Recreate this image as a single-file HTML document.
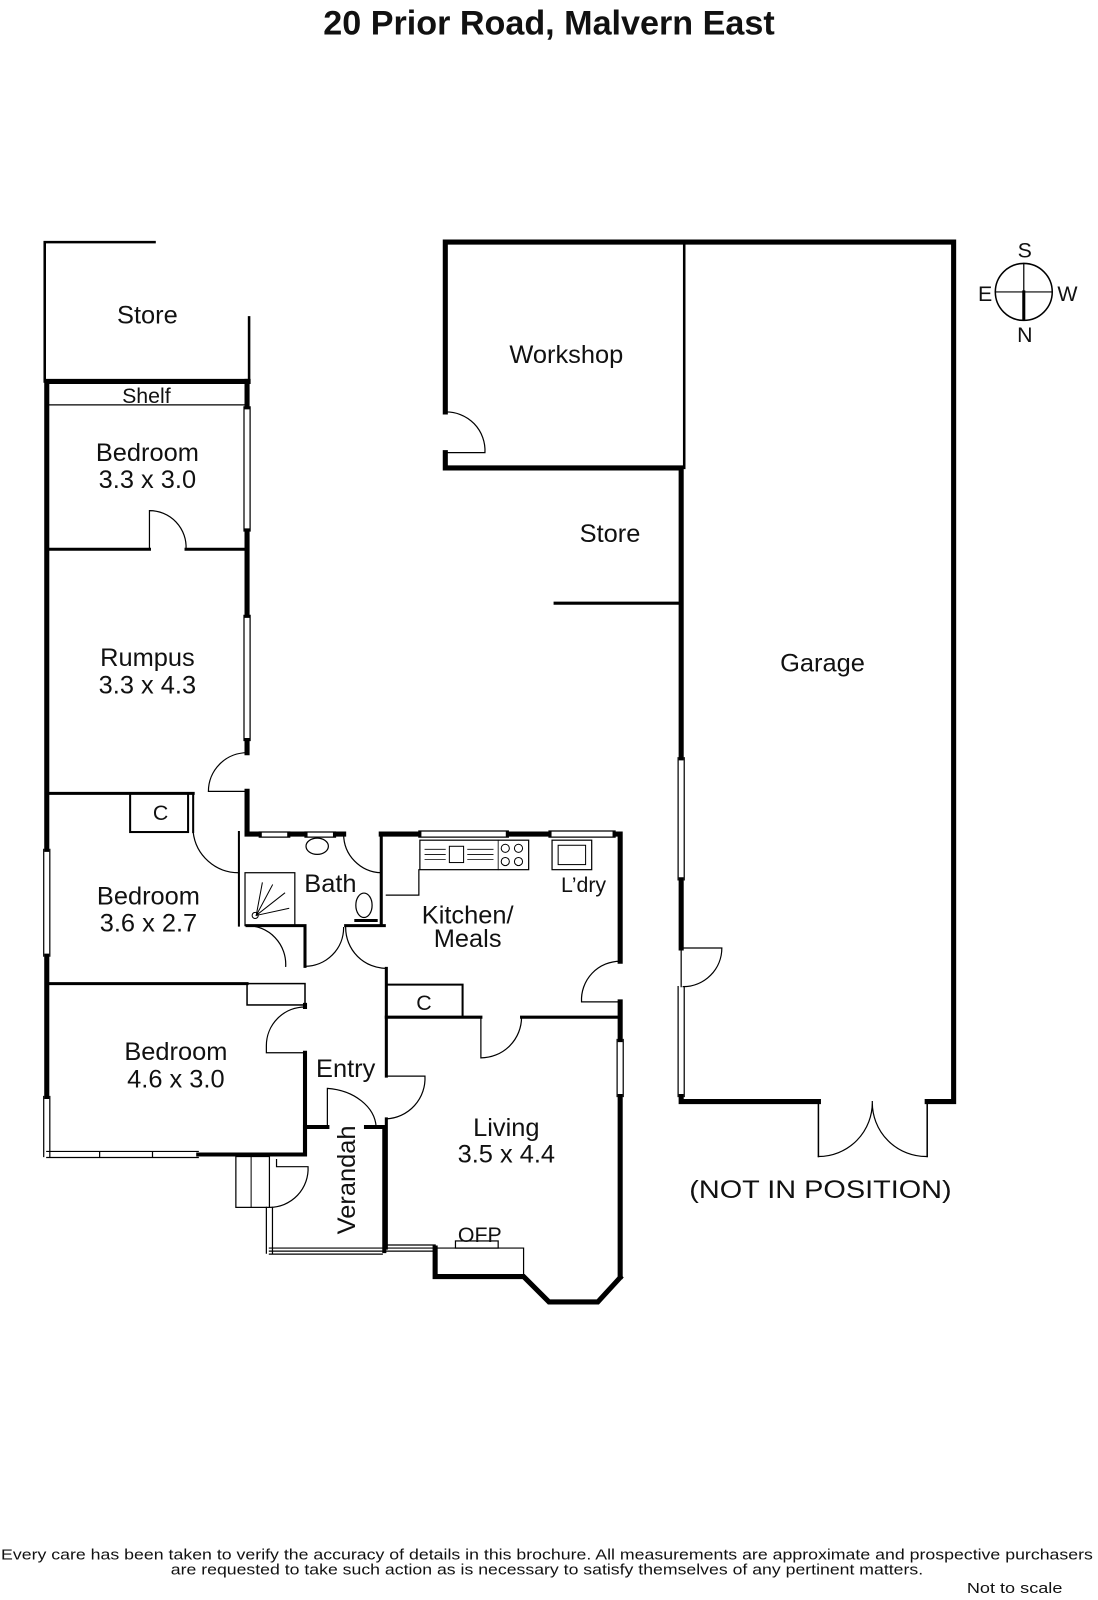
<!DOCTYPE html>
<html><head><meta charset="utf-8"><style>
html,body{margin:0;padding:0;background:#fff;}
svg{display:block;}
text{font-family:"Liberation Sans",sans-serif;fill:#111;}
</style></head><body>
<svg width="1098" height="1600" viewBox="0 0 1080 1573" preserveAspectRatio="none" xmlns="http://www.w3.org/2000/svg">
<g fill="none" stroke="#000" stroke-linecap="square">
<path d="M44 238 H152 M44 238 V375 M245 312 V375" stroke-width="2.5"/>
<path d="M46 375 H244 M46 375 V835 M46 940 V1078" stroke-width="5"/>
<path d="M46 398 H243" stroke-width="1.2"/>
<path d="M243 375 V400 M243 522 V605 M243 728 V740" stroke-width="5"/>
<path d="M240 400 V522 M246 400 V522 M240 605 V728 M246 605 V728" stroke-width="1.2"/>
<path d="M46 540 H147 M183 540 H243" stroke-width="3"/>
<path d="M147 540 V502 A36 36 0 0 1 183 540" stroke-width="1.2"/>
<path d="M243 740 A38 38 0 0 0 205 778 H243 V818" stroke-width="1.2"/>
<path d="M243 778 V818" stroke-width="5"/>
<path d="M46 780 H190" stroke-width="3"/>
<rect x="128" y="780" width="57" height="38" stroke-width="2"/>
<path d="M190 818 A45 45 0 0 0 235 858" stroke-width="1.2"/>
<path d="M190 780 V818" stroke-width="2"/>
<path d="M235 818 V910" stroke-width="2"/>
<path d="M43 835 V940 M49 835 V940" stroke-width="1.2"/>
<path d="M46 967 H243" stroke-width="3"/>
<rect x="243" y="967" width="57" height="21" stroke-width="1.5"/>
<path d="M243 820 H255 M285 820 H300 M330 820 H338" stroke-width="5"/>
<path d="M255 818 H285 M255 823 H285 M300 818 H330 M300 823 H330" stroke-width="1.2"/>
<rect x="241" y="858" width="49" height="52" stroke-width="1.2"/>
<path d="M252 900 L268 870 M252 900 L280 878 M252 900 L284 893 M252 900 L258 868" stroke-width="1"/>
<circle cx="251" cy="900" r="3" stroke-width="1"/>
<ellipse cx="312" cy="832" rx="11" ry="8" stroke-width="1.2"/>
<ellipse cx="358" cy="890" rx="8" ry="12" stroke-width="1.2"/>
<path d="M350 905 H370" stroke-width="3"/>
<path d="M338 820 A38 38 0 0 0 375 858" stroke-width="1.2"/>
<path d="M375 820 V910 M340 910 H378" stroke-width="3"/>
<path d="M243 910 H300 V950" stroke-width="3"/>
<path d="M300 950 A38 38 0 0 0 338 912" stroke-width="1.2"/>
<path d="M243 910 A38 38 0 0 1 281 950" stroke-width="1.2"/>
<path d="M375 820 H412 M500 820 H540 M605 820 H610 V945 M610 985 V1022 M610 1078 V1255" stroke-width="5"/>
<path d="M412 817 H500 M412 823 H500 M540 817 H605 M540 823 H605 M607 1022 V1078 M613 1022 V1078" stroke-width="1.2"/>
<rect x="413" y="826" width="107" height="29" stroke-width="1.2"/>
<rect x="442" y="832" width="14" height="16" stroke-width="1"/>
<circle cx="497" cy="834" r="4" stroke-width="1"/><circle cx="510" cy="834" r="4" stroke-width="1"/>
<circle cx="497" cy="847" r="4" stroke-width="1"/><circle cx="510" cy="847" r="4" stroke-width="1"/>
<path d="M418 835 H438 M418 840 H438 M418 845 H438 M460 835 H485 M460 840 H485 M460 845 H485 M490 826 V855" stroke-width="0.8"/>
<path d="M412 855 V880 H380" stroke-width="1.2"/>
<rect x="543" y="826" width="39" height="29" stroke-width="1.2"/>
<rect x="549" y="831" width="27" height="19" stroke-width="1"/>
<path d="M610 945 A38 38 0 0 0 572 985 H610" stroke-width="1.2"/>
<path d="M340 912 A40 40 0 0 0 380 952" stroke-width="1.2"/>
<path d="M380 968 H455 V1000" stroke-width="2"/>
<path d="M380 1000 H473 M513 1000 H610" stroke-width="3"/>
<path d="M473 1000 V1040 A40 40 0 0 0 513 1000" stroke-width="1.2"/>
<path d="M380 952 V1058 M380 1100 V1227" stroke-width="3"/>
<path d="M380 1058 H418 A40 40 0 0 1 380 1100" stroke-width="1.2"/>
<path d="M380 1227 H428 M380 1224 H428 M380 1230 H428" stroke-width="1.2"/>
<path d="M428 1227 V1255 H515 L540 1280 H588 L610 1256" stroke-width="5"/>
<rect x="448" y="1220" width="42" height="7" stroke-width="1.2"/>
<path d="M515 1227 V1255 M428 1227 H515" stroke-width="1.2"/>
<path d="M300 988 V990 M300 1035 V1135 H195" stroke-width="4"/>
<path d="M300 990 A38 38 0 0 0 262 1028 V1035 H300" stroke-width="1.2"/>
<path d="M46 1132 H195 M46 1138 H195 M98 1132 V1138 M150 1132 V1138" stroke-width="1.2"/>
<path d="M43 1078 V1137 M49 1078 V1137" stroke-width="1.2"/>
<path d="M300 1135 V1108 H322" stroke-width="4"/>
<path d="M322 1108 V1070 A53 40 0 0 1 370 1108" stroke-width="1.2"/>
<path d="M360 1108 H378 V1230" stroke-width="4"/>
<path d="M265 1230 H376 M265 1227 H376 M265 1233 H376" stroke-width="1.2"/>
<path d="M262 1187 V1232 M268 1187 V1232" stroke-width="1.2"/>
<rect x="232" y="1137" width="33" height="50" stroke-width="1.2"/>
<path d="M247 1137 V1187" stroke-width="1"/>
<path d="M265 1187 A38 38 0 0 0 303 1147 H272 V1140" stroke-width="1.2"/>
<path d="M438 405 V238 H938 V1083 H912 M805 1083 H670 V1078 M670 932 V865 M670 745 V460 H438 V445" stroke-width="5"/>
<path d="M673 238 V460" stroke-width="2.5"/>
<path d="M438 405 A38 38 0 0 1 477 445 H438" stroke-width="1.2"/>
<path d="M546 593 H670" stroke-width="3"/>
<path d="M667 745 V865 M673 745 V865 M667 970 V1078 M673 970 V1078" stroke-width="1.2"/>
<path d="M670 970 V932 H710 A38 38 0 0 1 672 970" stroke-width="1.2"/>
<path d="M805 1083 V1137 M912 1083 V1137" stroke-width="1.5"/>
<path d="M805 1137 A53 53 0 0 0 858 1083 M912 1137 A53 53 0 0 1 858 1083" stroke-width="1.2"/>
<circle cx="1007" cy="287" r="28" stroke-width="1.5"/>
<path d="M979 287 H1035 M1007 259 V287" stroke-width="1.2"/>
<path d="M1007 287 V314" stroke-width="3"/>
</g>
<text x="540" y="34" text-anchor="middle" font-size="34" font-weight="bold" textLength="444" lengthAdjust="spacingAndGlyphs">20 Prior Road, Malvern East</text>
<g font-size="25" text-anchor="middle">
<text x="145" y="318">Store</text>
<text x="557" y="357">Workshop</text>
<text x="600" y="533">Store</text>
<text x="809" y="660">Garage</text>
<text x="145" y="453">Bedroom</text>
<text x="145" y="480">3.3 x 3.0</text>
<text x="145" y="655">Rumpus</text>
<text x="145" y="682">3.3 x 4.3</text>
<text x="146" y="889">Bedroom</text>
<text x="146" y="916">3.6 x 2.7</text>
<text x="173" y="1042">Bedroom</text>
<text x="173" y="1069">4.6 x 3.0</text>
<text x="325" y="877">Bath</text>
<text x="460" y="908">Kitchen/</text>
<text x="460" y="931">Meals</text>
<text x="340" y="1059">Entry</text>
<text x="498" y="1117">Living</text>
<text x="498" y="1143">3.5 x 4.4</text>
<text x="807" y="1178" textLength="258" lengthAdjust="spacingAndGlyphs">(NOT IN POSITION)</text>
<text x="349" y="1160" transform="rotate(-90 349 1160)">Verandah</text>
</g>
<g font-size="21" text-anchor="middle">
<text x="144" y="396">Shelf</text>
<text x="574" y="877">L’dry</text>
<text x="158" y="806">C</text>
<text x="417" y="993">C</text>
<text x="472" y="1221">OFP</text>
<text x="1008" y="253">S</text>
<text x="1008" y="336">N</text>
<text x="969" y="296">E</text>
<text x="1050" y="296">W</text>
</g>
<g font-size="14.5" text-anchor="middle">
<text x="538" y="1533" textLength="1074" lengthAdjust="spacingAndGlyphs">Every care has been taken to verify the accuracy of details in this brochure.  All measurements are approximate and prospective purchasers</text>
<text x="538" y="1548" textLength="740" lengthAdjust="spacingAndGlyphs">are requested to take such action as is necessary to satisfy themselves of any pertinent matters.</text>
<text x="998" y="1566" textLength="94" lengthAdjust="spacingAndGlyphs">Not to scale</text>
</g>
</svg>
</body></html>
